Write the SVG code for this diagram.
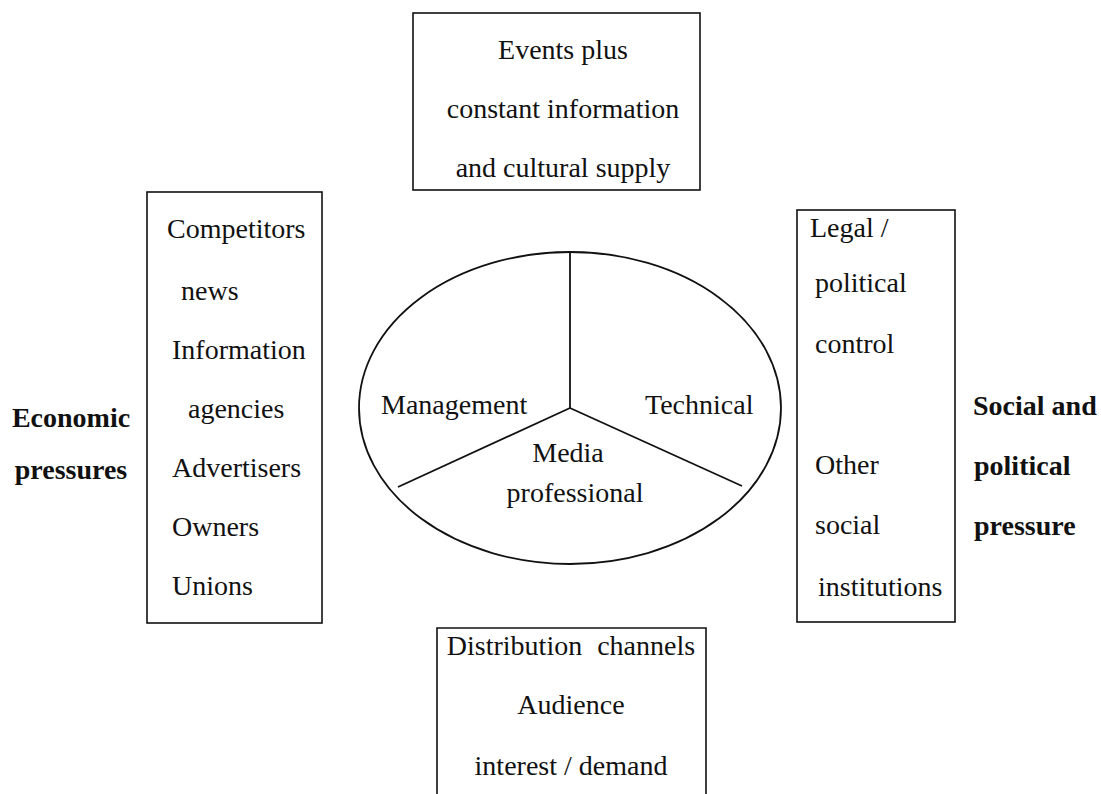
<svg xmlns="http://www.w3.org/2000/svg" width="1101" height="794" viewBox="0 0 1101 794">
<style>
.box{fill:none;stroke:#111;stroke-width:1.6}
.t{font-family:"Liberation Serif",serif;font-size:28px;fill:#111}
.c{text-anchor:middle}
.b{font-family:"Liberation Serif",serif;font-size:28px;font-weight:bold;fill:#111}
.ln{stroke:#111;stroke-width:1.8;fill:none}
</style>
<rect width="1101" height="794" fill="#fff"/>
<g id="top">
<rect class="box" x="413" y="13" width="287" height="177"/>
<text class="t c" x="563" y="59">Events plus</text>
<text class="t c" x="563" y="118">constant information</text>
<text class="t c" x="563" y="177">and cultural supply</text>
</g>
<g id="left">
<rect class="box" x="147" y="192" width="175" height="431"/>
<text class="t" x="167" y="238">Competitors</text>
<text class="t" x="181" y="300">news</text>
<text class="t" x="172" y="359">Information</text>
<text class="t" x="188" y="418">agencies</text>
<text class="t" x="172" y="477">Advertisers</text>
<text class="t" x="172" y="536">Owners</text>
<text class="t" x="172" y="595">Unions</text>
</g>
<g id="econ">
<text class="b c" x="71" y="427">Economic</text>
<text class="b c" x="71" y="479">pressures</text>
</g>
<g id="center">
<ellipse class="ln" cx="570" cy="408" rx="211" ry="156"/>
<text class="t" x="381" y="414">Management</text>
<text class="t" x="645" y="414">Technical</text>
<text class="t c" x="568" y="462">Media</text>
<text class="t c" x="575" y="502">professional</text>
</g>
<g id="connectors">
<line class="ln" x1="570" y1="252" x2="570" y2="408"/>
<line class="ln" x1="570" y1="408" x2="398" y2="487"/>
<line class="ln" x1="570" y1="408" x2="742" y2="486"/>
</g>
<g id="right">
<rect class="box" x="797" y="210" width="158" height="412"/>
<text class="t" x="810" y="237">Legal /</text>
<text class="t" x="815" y="292">political</text>
<text class="t" x="815" y="353">control</text>
<text class="t" x="815" y="474">Other</text>
<text class="t" x="815" y="534">social</text>
<text class="t" x="818" y="596">institutions</text>
</g>
<g id="social">
<text class="b" x="973" y="415">Social and</text>
<text class="b" x="974" y="475">political</text>
<text class="b" x="974" y="535">pressure</text>
</g>
<g id="bottom">
<path class="box" d="M437 800 V628 H706 V800"/>
<text class="t c" x="571" y="655" word-spacing="8">Distribution channels</text>
<text class="t c" x="571" y="714">Audience</text>
<text class="t c" x="571" y="775">interest / demand</text>
</g>
</svg>
